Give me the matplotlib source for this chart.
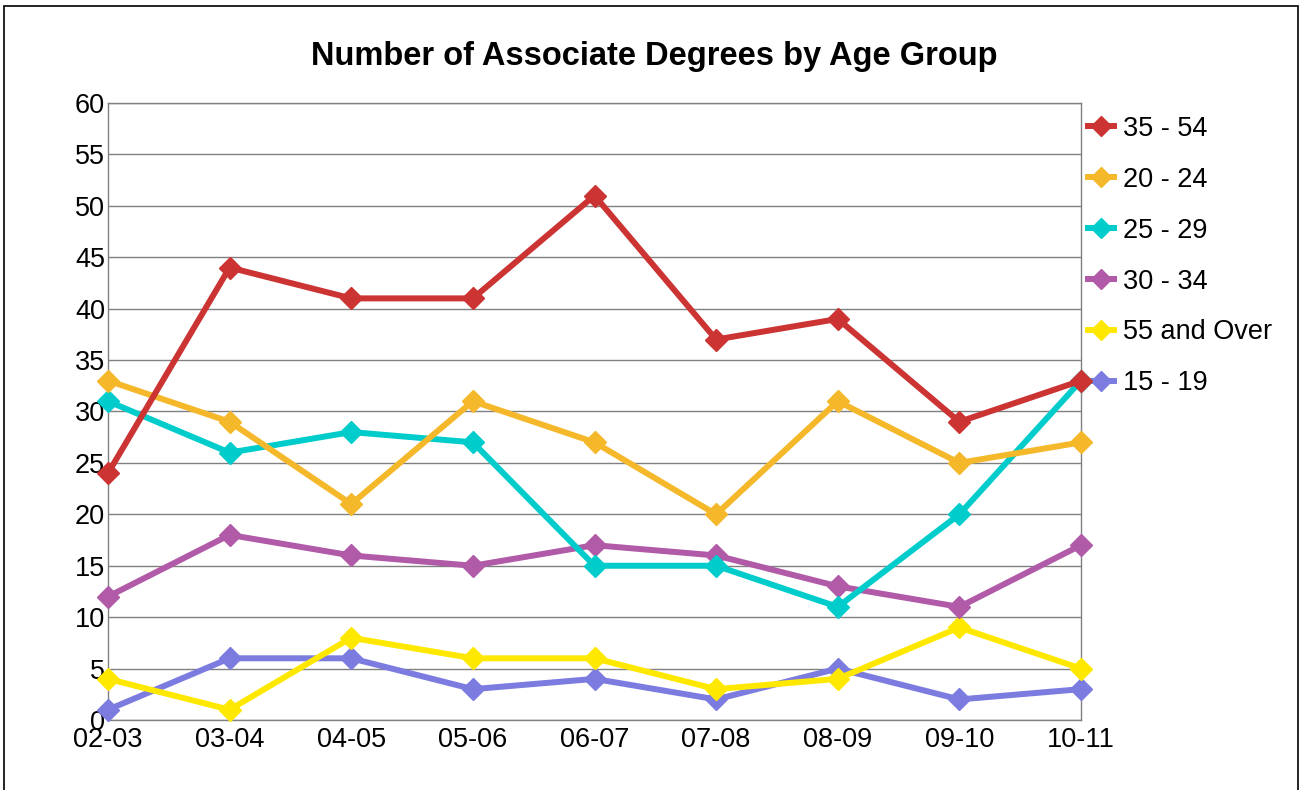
import matplotlib.pyplot as plt
from matplotlib.patches import Rectangle

# data
years = ['02-03', '03-04', '04-05', '05-06', '06-07', '07-08', '08-09', '09-10', '10-11']
age_35_54 = [24, 44, 41, 41, 51, 37, 39, 29, 33]
age_20_24 = [33, 29, 21, 31, 27, 20, 31, 25, 27]
age_25_29 = [31, 26, 28, 27, 15, 15, 11, 20, 33]
age_30_34 = [12, 18, 16, 15, 17, 16, 13, 11, 17]
age_55_up = [4, 1, 8, 6, 6, 3, 4, 9, 5]
age_15_19 = [1, 6, 6, 3, 4, 2, 5, 2, 3]

series = [
    ('35 - 54', age_35_54, '#CC3333', 6),
    ('20 - 24', age_20_24, '#F5B82A', 5),
    ('25 - 29', age_25_29, '#00CCCC', 4),
    ('30 - 34', age_30_34, '#B05AA8', 3),
    ('55 and Over', age_55_up, '#FFE800', 2),
    ('15 - 19', age_15_19, '#7B7BE0', 1),
]

plt.rcParams['font.family'] = ['Liberation Sans', 'DejaVu Sans']

fig = plt.figure(figsize=(13.02, 7.9), dpi=100)
ax = fig.add_axes([108/1302, 1 - 720/790, (1081-108)/1302, (720-103)/790])

x = list(range(len(years)))
for name, vals, col, z in series:
    ax.plot(x, vals, color=col, lw=4.3, marker='D', ms=11.5, label=name,
            zorder=z + 2, clip_on=False)

ax.set_xlim(0, len(years) - 1)
ax.set_ylim(0, 60)
ax.set_yticks(range(0, 61, 5))
ax.set_xticks(x)
ax.set_xticklabels(years)
ax.tick_params(axis='both', length=0, labelsize=19.5, pad=2)
ax.tick_params(axis='x', pad=5)
ax.grid(axis='y', color='#808080', lw=1)
ax.set_axisbelow(True)
for s in ax.spines.values():
    s.set_color('#808080')
    s.set_linewidth(1)

fig.text(654/1302, 1 - 57/790, 'Number of Associate Degrees by Age Group',
         ha='center', va='center', fontsize=23.5, fontweight='bold')

leg = ax.legend(loc='upper left', bbox_to_anchor=(1.0, 1 - 6/617), frameon=False,
                fontsize=19.5, labelspacing=0.92, handlelength=0.95,
                handletextpad=0.35, borderaxespad=0.0, borderpad=0.25,
                markerscale=0.85)

# outer border of the chart
fig.patches.append(Rectangle((4/1302, -0.05), 1294/1302, 1 - 6/790 + 0.05,
                             transform=fig.transFigure, fill=False,
                             edgecolor='black', lw=1.2))

plt.savefig('out.png', dpi=100)
